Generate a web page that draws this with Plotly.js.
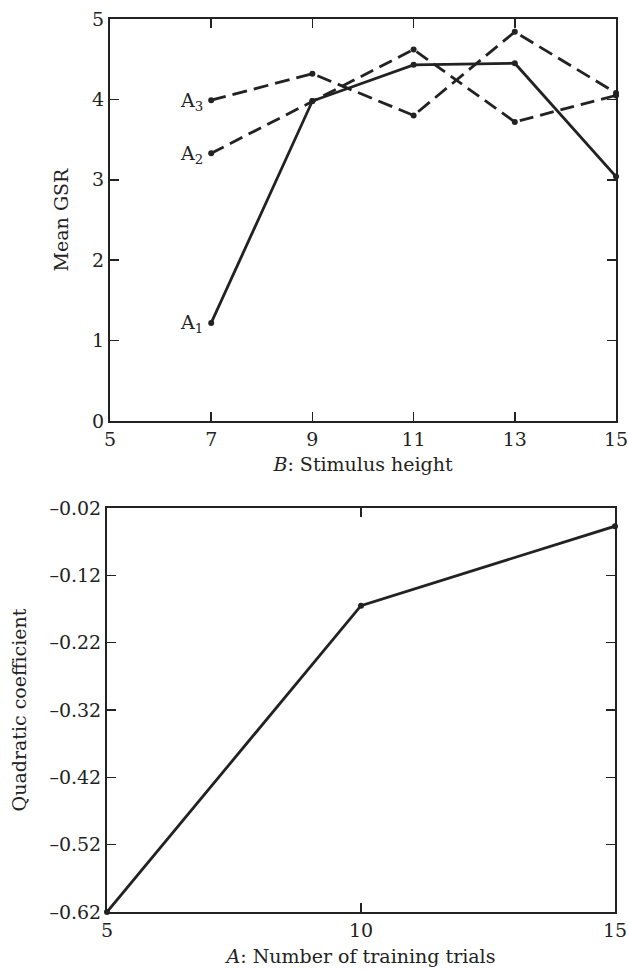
<!DOCTYPE html>
<html><head><meta charset="utf-8">
<script src="https://cdn.plot.ly/plotly-3.0.1.min.js"></script>
<style>html,body{margin:0;padding:0;background:#fff}</style>
</head><body><div id="chart" style="width:628px;height:971px"></div>
<script>
const stimulusHeight = [7, 9, 11, 13, 15];
const gsrA1 = [1.22, 3.98, 4.43, 4.45, 3.04];
const gsrA2 = [3.33, 3.98, 4.62, 3.72, 4.05];
const gsrA3 = [3.99, 4.32, 3.80, 4.84, 4.08];
const seriesLabels = ['A<sub>1</sub>', 'A<sub>2</sub>', 'A<sub>3</sub>'];
const trainingTrials = [5, 10, 15];
const quadCoef = [-0.62, -0.165, -0.047];
const topXTicks = [5, 7, 9, 11, 13, 15];
const topYTicks = [0, 1, 2, 3, 4, 5];
const botXTicks = [5, 10, 15];
const botYTicks = [-0.62, -0.52, -0.42, -0.32, -0.22, -0.12, -0.02];
const botYTickText = botYTicks.map(v => '–' + Math.abs(v).toFixed(2));

const INK = '#222';
const FONT = 'DejaVu Serif, serif';
const FS = 19;

function lineTrace(x, y, dash, xa, ya) {
  return {
    x: x, y: y, xaxis: xa, yaxis: ya, type: 'scatter', mode: 'lines+markers',
    line: {color: INK, width: 2.8, dash: dash},
    marker: {color: INK, size: 6},
    cliponaxis: false, showlegend: false, hoverinfo: 'x+y'
  };
}

const traces = [
  lineTrace(stimulusHeight, gsrA1, 'solid', 'x', 'y'),
  lineTrace(stimulusHeight, gsrA2, '14px,7px', 'x', 'y'),
  lineTrace(stimulusHeight, gsrA3, '15px,7px', 'x', 'y'),
  lineTrace(trainingTrials, quadCoef, 'solid', 'x2', 'y2')
];

const axisBase = {
  showline: true, linecolor: INK, linewidth: 2, mirror: 'ticks',
  ticks: 'inside', ticklen: 9, tickwidth: 1.5, tickcolor: INK,
  showgrid: false, zeroline: false, fixedrange: true,
  ticklabeloverflow: 'allow',
  tickfont: {family: FONT, size: FS, color: INK}
};

const seriesVals = [gsrA1, gsrA2, gsrA3];
const annotations = seriesLabels.map((t, i) => ({
  x: stimulusHeight[0], y: seriesVals[i][0], xref: 'x', yref: 'y',
  text: t, showarrow: false, xanchor: 'right', yanchor: 'middle',
  xshift: -6, yshift: -1, font: {family: FONT, size: FS, color: INK}
}));

const layout = {
  width: 628, height: 971,
  margin: {l: 0, r: 0, t: 0, b: 0},
  paper_bgcolor: '#fff', plot_bgcolor: '#fff',
  font: {family: FONT, color: INK},
  xaxis: Object.assign({}, axisBase, {
    domain: [110/628, 616/628], range: [5, 15], tickvals: topXTicks,
    anchor: 'y',
    title: {text: '<i>B</i>: Stimulus height', font: {family: FONT, size: FS, color: INK}, standoff: 9}
  }),
  yaxis: Object.assign({}, axisBase, {
    domain: [1 - 421/971, 1 - 19/971], range: [0, 5], tickvals: topYTicks,
    anchor: 'x',
    title: {text: 'Mean GSR', font: {family: FONT, size: FS, color: INK}, standoff: 18}
  }),
  xaxis2: Object.assign({}, axisBase, {
    domain: [107/628, 615/628], range: [5, 15], tickvals: botXTicks,
    anchor: 'y2',
    title: {text: '<i>A</i>: Number of training trials', font: {family: FONT, size: FS, color: INK}, standoff: 10}
  }),
  yaxis2: Object.assign({}, axisBase, {
    domain: [1 - 912/971, 1 - 508/971], range: [-0.62, -0.02], tickvals: botYTicks,
    ticktext: botYTickText, anchor: 'x2',
    title: {text: 'Quadratic coefficient', font: {family: FONT, size: FS, color: INK}, standoff: 18}
  }),
  annotations: annotations
};

Plotly.newPlot('chart', traces, layout, {displayModeBar: false, staticPlot: true});
</script></body></html>
